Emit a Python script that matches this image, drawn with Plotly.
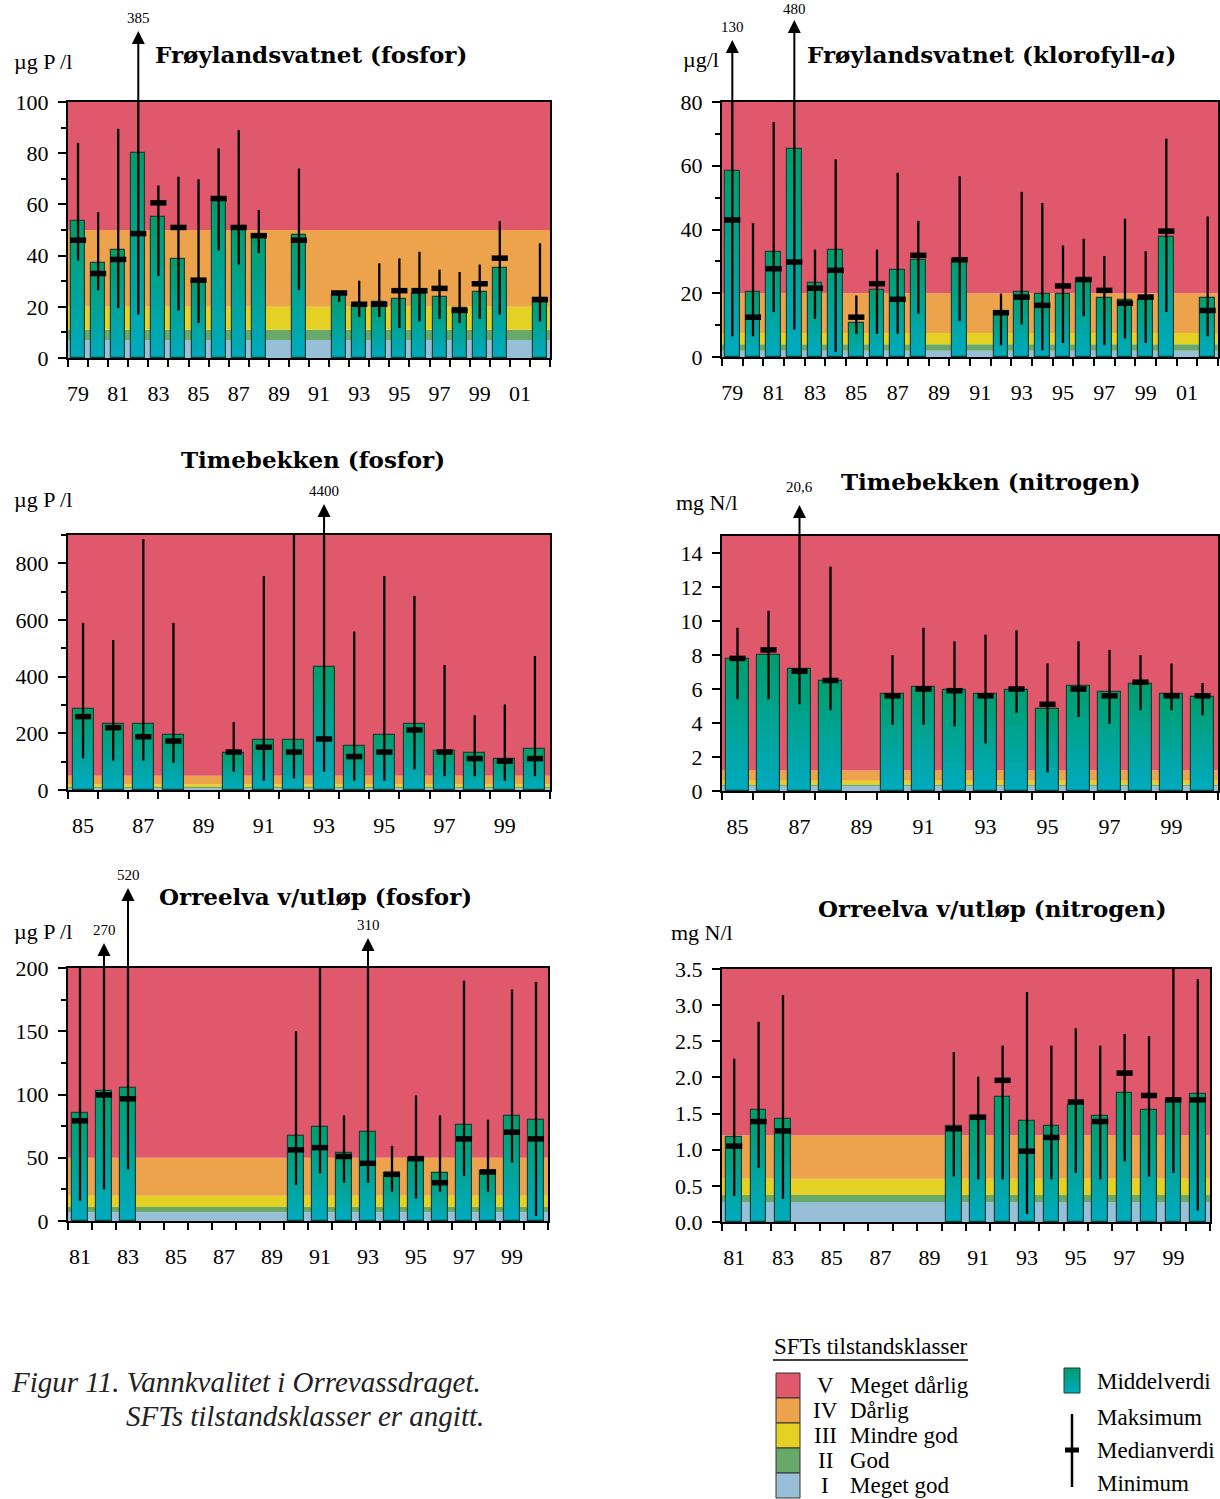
import plotly.graph_objects as go

W, H = 1220, 1499
SERIF = "Liberation Serif, Times New Roman, serif"
TITLE_FONT = "DejaVu Serif, Liberation Serif, serif"

# ---------------- DATA ----------------
# Frøylandsvatnet (fosfor), µg P/l
frp_years = [1979, 1980, 1981, 1982, 1983, 1984, 1985, 1986, 1987, 1988, 1990,
             1992, 1993, 1994, 1995, 1996, 1997, 1998, 1999, 2000, 2002]
frp_mean = [53.5, 37, 42, 80, 55, 38.7, 29.6, 62.3, 51, 47.6, 48,
            24.5, 20.7, 22, 23.2, 25, 24, 19.6, 25.7, 35.2, 23.5]
frp_median = [46, 33, 38.5, 48.6, 60.6, 51, 30.4, 62.3, 51, 47.8, 46,
              25.4, 21, 21, 26.3, 26.3, 27.2, 18.6, 29, 39, 22.8]
frp_max = [84, 57, 89.5, 385, 67.4, 70.8, 69.8, 81.9, 89, 57.8, 74,
           26, 30.2, 37, 38.9, 41.5, 34.5, 33.6, 36.5, 53.5, 44.8]
frp_min = [38, 26.5, 19.5, 17, 32, 18.6, 13.7, 42, 36.5, 41, 26.5,
           22, 16, 16, 11.7, 14.3, 15.3, 13.7, 15.3, 17, 14.3]
frp_outliers = {1982: "385"}

# Frøylandsvatnet (klorofyll-a), µg/l
frk_years = frp_years
frk_mean = [58.4, 20.4, 33, 65.4, 23.2, 33.7, 10.8, 21.1, 27.4, 30.3, 30.3,
            14.1, 20.4, 19.9, 19.9, 24.6, 18.5, 17.8, 17.8, 37.6, 18.5]
frk_median = [43, 12.5, 27.7, 29.8, 21.6, 27.2, 12.5, 23, 18.1, 31.9, 30.5,
              13.9, 18.8, 16.2, 22.3, 24.3, 20.9, 16.9, 18.8, 39.5, 14.6]
frk_max = [130, 42, 73.7, 480, 33.7, 62, 19.3, 33.7, 57.8, 42.7, 56.7,
           19.9, 51.8, 48.3, 35, 37.1, 31.7, 43.4, 33.2, 68.5, 44.1]
frk_min = [6.5, 6.5, 14.1, 8.6, 12, 1.6, 7.3, 7.3, 7.3, 13.6, 11.3,
           3.7, 10.2, 2.1, 4.4, 12.8, 3.7, 5.8, 4.4, 14.1, 6.5]
frk_outliers = {1979: "130", 1982: "480"}

# Timebekken (fosfor), µg P/l
tbp_years = [1985, 1986, 1987, 1988, 1990, 1991, 1992, 1993, 1994, 1995,
             1996, 1997, 1998, 1999, 2000]
tbp_mean = [285, 232, 232, 193, 129, 176, 176, 433, 155, 193, 232, 138, 129, 108, 146]
tbp_median = [259, 220, 188, 173, 134, 151, 134, 180, 118, 134, 212, 134, 111, 102, 111]
tbp_max = [590, 529, 886, 590, 240, 755, 909, 4400, 559, 755, 685, 441, 264, 302, 473]
tbp_min = [112, 104, 104, 96, 65, 33, 41, 65, 33, 33, 73, 49, 49, 33, 49]
tbp_outliers = {1993: "4400"}

# Timebekken (nitrogen), mg N/l
tbn_years = tbp_years
tbn_mean = [7.75, 8.0, 7.2, 6.45, 5.7, 6.1, 5.95, 5.7, 5.95, 4.8, 6.2, 5.8, 6.3, 5.7, 5.55]
tbn_median = [7.8, 8.3, 7.05, 6.5, 5.6, 6.0, 5.9, 5.6, 6.0, 5.1, 6.0, 5.6, 6.4, 5.6, 5.6]
tbn_max = [9.6, 10.6, 20.6, 13.2, 8.0, 9.6, 8.8, 9.2, 9.45, 7.5, 8.8, 8.3, 8.0, 7.5, 6.35]
tbn_min = [5.4, 5.4, 5.1, 4.75, 3.9, 3.9, 3.8, 2.8, 4.6, 1.1, 4.35, 3.95, 4.75, 4.75, 4.45]
tbn_outliers = {1987: "20,6"}

# Orreelva v/utløp (fosfor), µg P/l
orp_years = [1981, 1982, 1983, 1990, 1991, 1992, 1993, 1994, 1995, 1996,
             1997, 1998, 1999, 2000]
orp_mean = [85.2, 102.4, 105.5, 67.5, 74.4, 53.6, 70.7, 38.3, 50.1, 37.7, 76, 39.6, 83.1, 79.7]
orp_median = [79.2, 99.7, 96.6, 56.2, 58, 51, 45.6, 36.9, 49.3, 30.3, 64.9, 38.8, 70.2, 64.9]
orp_max = [200, 270, 520, 150, 204, 83.4, 310, 59.4, 99.2, 83.4, 190, 80, 183, 189]
orp_min = [16, 25, 40.9, 28.5, 37.7, 30.3, 30.3, 23.2, 17.9, 23.2, 35.6, 23.2, 46.2, 4]
orp_outliers = {1982: "270", 1983: "520", 1993: "310"}

# Orreelva v/utløp (nitrogen), mg N/l
orn_years = orp_years
orn_mean = [1.18, 1.55, 1.43, 1.33, 1.47, 1.73, 1.40, 1.33, 1.62, 1.46, 1.79, 1.55, 1.69, 1.77]
orn_median = [1.05, 1.39, 1.26, 1.29, 1.45, 1.96, 0.98, 1.17, 1.66, 1.39, 2.06, 1.75, 1.69, 1.69]
orn_max = [2.26, 2.77, 3.14, 2.35, 2.01, 2.44, 3.18, 2.44, 2.68, 2.44, 2.60, 2.57, 3.67, 3.36]
orn_min = [0.36, 0.75, 0.32, 0.63, 0.59, 0.59, 0.11, 0.59, 0.68, 0.59, 0.84, 0.63, 0.68, 0.16]
orn_outliers = {}

# SFT class limits (I/II, II/III, III/IV, IV/V)
fosfor_classes = [7, 11, 20, 50]
klorofyll_classes = [2, 4, 7.5, 20]
nitrogen_classes = [0.275, 0.375, 0.6, 1.2]

class_names = ["Meget dårlig", "Dårlig", "Mindre god", "God", "Meget god"]
class_roman = ["V", "IV", "III", "II", "I"]

# x tick labels
xt_79_01 = ["79", "81", "83", "85", "87", "89", "91", "93", "95", "97", "99", "01"]
xt_85_99 = ["85", "87", "89", "91", "93", "95", "97", "99"]
xt_81_99 = ["81", "83", "85", "87", "89", "91", "93", "95", "97", "99"]

# ---------------- STYLE ----------------
class_colors = ["#97bfd8", "#68a868", "#e5d124", "#eda24c", "#e0586b"]  # I..V
bar_top = (0, 158, 108)
bar_bottom = (0, 170, 192)
bar_edge = "#1f3f33"


def fx(x):
    return x / W


def fy(y):
    return 1 - y / H


panels = [
    dict(years=frp_years, mean=frp_mean, med=frp_median, mx=frp_max, mn=frp_min,
         out=frp_outliers, classes=fosfor_classes, px=(68, 550, 102, 358),
         yr=(0, 100), dtick=20, minor=10, fmt=None, xr=(1979, 2002), xt=xt_79_01, bw=0.7,
         title="Frøylandsvatnet (fosfor)", tpos=(311, 55), unit="µg P /l", upos=(12, 62),
         arrows={1982: (71, 84)}),
    dict(years=frk_years, mean=frk_mean, med=frk_median, mx=frk_max, mn=frk_min,
         out=frk_outliers, classes=klorofyll_classes, px=(722, 1218, 102, 357),
         yr=(0, 80), dtick=20, minor=10, fmt=None, xr=(1979, 2002), xt=xt_79_01, bw=0.7,
         title="Frøylandsvatnet (klorofyll-<i>a</i>)", tpos=(991, 55), unit="µg/l", upos=(681, 60),
         arrows={1979: (62, 75), 1982: (82, 93)}),
    dict(years=tbp_years, mean=tbp_mean, med=tbp_median, mx=tbp_max, mn=tbp_min,
         out=tbp_outliers, classes=fosfor_classes, px=(68, 550, 535, 790),
         yr=(0, 900), dtick=200, minor=100, fmt=None, xr=(1985, 2000), xt=xt_85_99, bw=0.7,
         title="Timebekken (fosfor)", tpos=(313, 459), unit="µg P /l", upos=(12, 500),
         arrows={1993: (31, 44)}),
    dict(years=tbn_years, mean=tbn_mean, med=tbn_median, mx=tbn_max, mn=tbn_min,
         out=tbn_outliers, classes=nitrogen_classes, px=(722, 1218, 536, 791),
         yr=(0, 15), dtick=2, minor=None, fmt=None, xr=(1985, 2000), xt=xt_85_99, bw=0.74,
         title="Timebekken (nitrogen)", tpos=(991, 481), unit="mg N/l", upos=(674, 502),
         arrows={1987: (31, 49)}),
    dict(years=orp_years, mean=orp_mean, med=orp_median, mx=orp_max, mn=orp_min,
         out=orp_outliers, classes=fosfor_classes, px=(68, 548, 968, 1221),
         yr=(0, 200), dtick=50, minor=25, fmt=None, xr=(1981, 2000), xt=xt_81_99, bw=0.68,
         title="Orreelva v/utløp (fosfor)", tpos=(315, 896), unit="µg P /l", upos=(12, 931),
         arrows={1982: (25, 38), 1983: (80, 93), 1993: (30, 43)}),
    dict(years=orn_years, mean=orn_mean, med=orn_median, mx=orn_max, mn=orn_min,
         out=orn_outliers, classes=nitrogen_classes, px=(722, 1210, 969, 1222),
         yr=(0, 3.5), dtick=0.5, minor=None, fmt=".1f", xr=(1981, 2000), xt=xt_81_99, bw=0.64,
         title="Orreelva v/utløp (nitrogen)", tpos=(992, 908), unit="mg N/l", upos=(669, 932),
         arrows={}),
]


def mix(t):
    c = [round(bar_bottom[k] + (bar_top[k] - bar_bottom[k]) * t) for k in range(3)]
    return f"rgb({c[0]},{c[1]},{c[2]})"


fig = go.Figure()
shapes = []
annotations = []
layout_axes = {}
NSEG = 14

for i, p in enumerate(panels, start=1):
    xa = "x" if i == 1 else f"x{i}"
    ya = "y" if i == 1 else f"y{i}"
    xkey = "xaxis" if i == 1 else f"xaxis{i}"
    ykey = "yaxis" if i == 1 else f"yaxis{i}"
    x0, x1, yt, yb = p["px"]
    yr0, yr1 = p["yr"]
    xr0, xr1 = p["xr"]
    nslots = xr1 - xr0 + 1
    first_odd = xr0 if xr0 % 2 else xr0 + 1
    tickvals = list(range(first_odd, xr1 + 1, 2))[:len(p["xt"])]
    bounds = [xr0 - 0.5 + k for k in range(nslots + 1)]

    layout_axes[xkey] = dict(
        domain=[fx(x0), fx(x1)], anchor=ya, range=[xr0 - 0.5, xr1 + 0.5],
        tickmode="array", tickvals=tickvals, ticktext=p["xt"], ticks="",
        showline=True, linecolor="black", linewidth=2, mirror=True,
        showgrid=False, zeroline=False, ticklabelstandoff=15,
        tickfont=dict(family=SERIF, size=22, color="black"),
        minor=dict(tickmode="array", tickvals=bounds, ticks="outside", ticklen=7,
                   tickwidth=1.5, tickcolor="black", showgrid=False),
    )
    yax = dict(
        domain=[fy(yb), fy(yt)], anchor=xa, range=[yr0, yr1],
        tickmode="linear", tick0=0, dtick=p["dtick"], ticks="outside", ticklen=8,
        tickwidth=1.5, tickcolor="black", showline=True, linecolor="black",
        linewidth=2, mirror=True, showgrid=False, zeroline=False,
        ticklabelstandoff=5, tickfont=dict(family=SERIF, size=22, color="black"),
    )
    if p["fmt"]:
        yax["tickformat"] = p["fmt"]
    if p["minor"]:
        yax["minor"] = dict(dtick=p["minor"], ticks="outside", ticklen=5,
                            tickwidth=1.5, tickcolor="black", showgrid=False)
    layout_axes[ykey] = yax

    # class bands
    lims = [yr0] + p["classes"] + [yr1]
    for k in range(5):
        shapes.append(dict(type="rect", xref=f"{xa} domain", yref=ya, x0=0, x1=1,
                           y0=lims[k], y1=lims[k + 1], fillcolor=class_colors[k],
                           line=dict(width=0), layer="below"))

    # gradient bars: overlapping layers, each from its slice base up to the mean
    for s in range(NSEG):
        fig.add_trace(go.Bar(
            x=p["years"], y=[m * (NSEG - s) / NSEG for m in p["mean"]],
            base=[m * s / NSEG for m in p["mean"]], width=p["bw"],
            marker=dict(color=mix((s + 0.5) / NSEG), line=dict(width=0)),
            xaxis=xa, yaxis=ya, hoverinfo="skip"))
    fig.add_trace(go.Bar(
        x=p["years"], y=p["mean"], width=p["bw"],
        marker=dict(color="rgba(0,0,0,0)", line=dict(color=bar_edge, width=1.2)),
        xaxis=xa, yaxis=ya))

    # whiskers (min-max) and median
    plus = []
    for yv, md, mx in zip(p["years"], p["med"], p["mx"]):
        top = min(mx, yr1) if yv in p["out"] else mx
        plus.append(top - md)
    minus = [md - mn for md, mn in zip(p["med"], p["mn"])]
    fig.add_trace(go.Scatter(
        x=p["years"], y=p["med"], mode="markers", cliponaxis=False,
        marker=dict(symbol="line-ew", size=11.5,
                    line=dict(width=5.5, color="black"), color="black"),
        error_y=dict(type="data", symmetric=False, array=plus, arrayminus=minus,
                     width=0, thickness=2.3, color="black"),
        xaxis=xa, yaxis=ya))

    # outlier arrows
    for yv, lab in p["out"].items():
        tip_px, lab_px = p["arrows"][yv]
        annotations.append(dict(
            x=yv, xref=xa, y=fy(yt - tip_px), yref="paper", text="",
            showarrow=True, arrowhead=2, arrowsize=1.3, arrowwidth=2,
            arrowcolor="black", ax=0, ay=tip_px, axref="pixel", ayref="pixel"))
        annotations.append(dict(
            x=yv, xref=xa, y=fy(yt - lab_px), yref="paper", text=lab,
            showarrow=False, font=dict(family=SERIF, size=15, color="black"),
            xanchor="center", yanchor="middle"))

    # title & unit
    annotations.append(dict(
        x=fx(p["tpos"][0]), y=fy(p["tpos"][1]), xref="paper", yref="paper",
        text=f"<b>{p['title']}</b>", showarrow=False, xanchor="center", yanchor="middle",
        font=dict(family=TITLE_FONT, size=23, color="black")))
    annotations.append(dict(
        x=fx(p["upos"][0]), y=fy(p["upos"][1]), xref="paper", yref="paper",
        text=p["unit"], showarrow=False, xanchor="left", yanchor="middle",
        font=dict(family=SERIF, size=22, color="black")))

# ---------------- LEGEND ----------------
lx0, lx1 = 776, 800
box_tops = [1373, 1398, 1423, 1448, 1473]
for k in range(5):
    shapes.append(dict(type="rect", xref="paper", yref="paper",
                       x0=fx(lx0), x1=fx(lx1), y0=fy(box_tops[k] + 25), y1=fy(box_tops[k]),
                       fillcolor=class_colors[4 - k], line=dict(color="#333", width=1)))
    annotations.append(dict(x=fx(825), y=fy(box_tops[k] + 12.5), xref="paper",
                            yref="paper", text=class_roman[k], showarrow=False,
                            xanchor="center", yanchor="middle",
                            font=dict(family=SERIF, size=23, color="black")))
    annotations.append(dict(x=fx(848), y=fy(box_tops[k] + 12.5), xref="paper",
                            yref="paper", text=class_names[k], showarrow=False,
                            xanchor="left", yanchor="middle",
                            font=dict(family=SERIF, size=23, color="black")))

annotations.append(dict(x=fx(772), y=fy(1346), xref="paper", yref="paper",
                        text="SFTs tilstandsklasser", showarrow=False, xanchor="left",
                        yanchor="middle", font=dict(family=SERIF, size=23, color="black")))
shapes.append(dict(type="line", xref="paper", yref="paper", x0=fx(773), x1=fx(968),
                   y0=fy(1360), y1=fy(1360), line=dict(color="black", width=1.5)))

# Middelverdi swatch (gradient, overlapping layers)
sw_top, sw_bot = 1368, 1393
nsw = 8
for s in range(nsw):
    y_lo = sw_bot - (sw_bot - sw_top) * s / nsw
    shapes.append(dict(type="rect", xref="paper", yref="paper", x0=fx(1064), x1=fx(1080),
                       y0=fy(y_lo), y1=fy(sw_top), fillcolor=mix((s + 0.5) / nsw),
                       line=dict(width=0)))
shapes.append(dict(type="rect", xref="paper", yref="paper", x0=fx(1064), x1=fx(1080),
                   y0=fy(sw_bot), y1=fy(sw_top), line=dict(color=bar_edge, width=1)))
# whisker symbol
shapes.append(dict(type="line", xref="paper", yref="paper", x0=fx(1072), x1=fx(1072),
                   y0=fy(1414), y1=fy(1487), line=dict(color="black", width=2.5)))
shapes.append(dict(type="line", xref="paper", yref="paper", x0=fx(1065), x1=fx(1079),
                   y0=fy(1450), y1=fy(1450), line=dict(color="black", width=5)))
for txt, yy in [("Middelverdi", 1381), ("Maksimum", 1417), ("Medianverdi", 1450),
                ("Minimum", 1483)]:
    annotations.append(dict(x=fx(1095), y=fy(yy), xref="paper", yref="paper",
                            text=txt, showarrow=False, xanchor="left", yanchor="middle",
                            font=dict(family=SERIF, size=23, color="black")))

# caption
annotations.append(dict(x=fx(9), y=fy(1382), xref="paper", yref="paper",
                        text="<i>Figur 11. Vannkvalitet i Orrevassdraget.</i>",
                        showarrow=False, xanchor="left", yanchor="middle",
                        font=dict(family=SERIF, size=29, color="#222")))
annotations.append(dict(x=fx(124), y=fy(1416), xref="paper", yref="paper",
                        text="<i>SFTs tilstandsklasser er angitt.</i>",
                        showarrow=False, xanchor="left", yanchor="middle",
                        font=dict(family=SERIF, size=29, color="#222")))

fig.update_layout(
    width=W, height=H, margin=dict(l=0, r=0, t=0, b=0, pad=0, autoexpand=False),
    paper_bgcolor="white", plot_bgcolor="white", showlegend=False,
    barmode="overlay", bargap=0, shapes=shapes, annotations=annotations,
    **layout_axes,
)

# remove the default page margin so the 1220x1499 figure fills the window exactly
fig.write_html("out.html", config={"displayModeBar": False},
               post_script="document.body.style.margin='0px';")
